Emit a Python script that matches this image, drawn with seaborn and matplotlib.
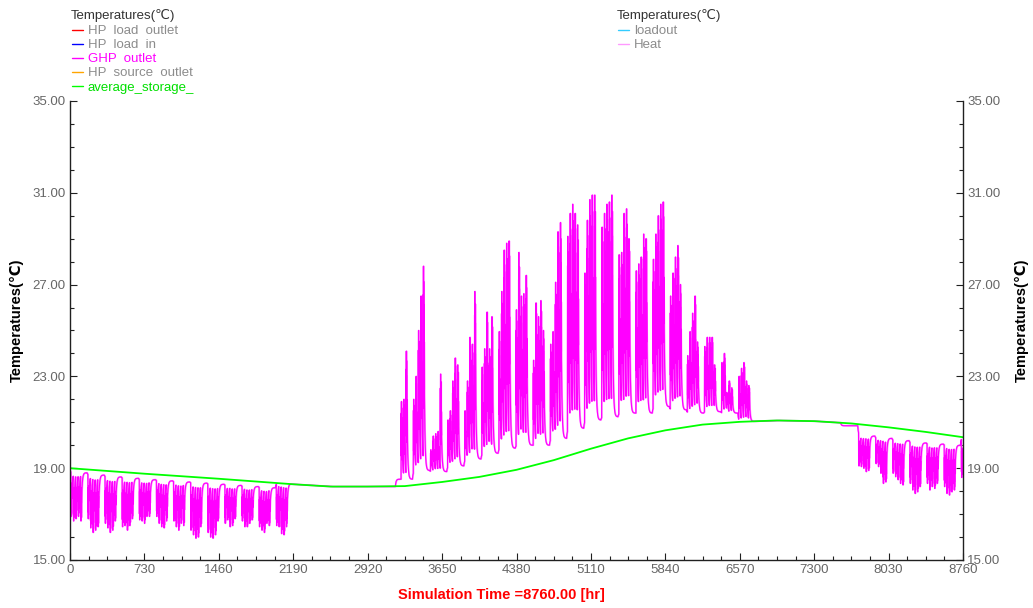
import numpy as np
import matplotlib
matplotlib.use("Agg")
import matplotlib.pyplot as plt
import seaborn as sns
from matplotlib.lines import Line2D
from matplotlib.ticker import MultipleLocator, FixedLocator

# ---------------- data ----------------
x_ticks = [0, 730, 1460, 2190, 2920, 3650, 4380, 5110, 5840, 6570, 7300, 8030, 8760]
y_ticks = [15, 19, 23, 27, 31, 35]

# average_storage_ (green)
storage_hours = [0, 365, 730, 1095, 1460, 1825, 2190, 2555, 2920, 3285, 3650, 4015,
                 4380, 4745, 5110, 5475, 5840, 6205, 6570, 6935, 7300, 7665, 8030, 8395, 8760]
storage_temp = [19.0, 18.88, 18.76, 18.65, 18.54, 18.42, 18.3, 18.2, 18.2, 18.22, 18.4, 18.62,
                18.93, 19.35, 19.85, 20.3, 20.65, 20.9, 21.02, 21.08, 21.05, 20.95, 20.78, 20.58, 20.35]

# GHP outlet - first heating season (weeks 0..12): recovery ceiling and daily minima
heat1_weeks = list(range(0, 13))
heat1_ceiling = [18.92, 18.8, 18.7, 18.62, 18.56, 18.5, 18.45, 18.4, 18.35, 18.3, 18.25, 18.2, 18.15]
heat1_min = [
    [16.9, 16.7, 16.8, 16.9, 16.7],
    [16.8, 16.4, 16.2, 16.3, 16.45],
    [16.6, 16.4, 16.2, 16.3, 16.7],
    [16.45, 16.5, 16.3, 16.5, 16.8],
    [16.75, 16.7, 16.6, 16.9, 16.9],
    [16.9, 16.6, 16.45, 16.4, 16.7],
    [16.7, 16.45, 16.3, 16.6, 16.5],
    [16.3, 16.1, 15.95, 16.0, 16.45],
    [16.2, 16.0, 15.95, 16.1, 16.7],
    [16.6, 16.75, 16.45, 16.5, 16.8],
    [16.7, 16.45, 16.45, 16.6, 16.75],
    [16.45, 16.3, 16.2, 16.6, 16.5],
    [16.5, 16.45, 16.15, 16.1, 16.45],
]

# GHP outlet - cooling season (weeks 19..39): weekend floor and daily peaks
cool_weeks = list(range(19, 40))
cool_floor = [18.2, 18.52, 18.9, 18.85, 19.1, 19.4, 19.65, 19.87, 20.0, 20.0, 20.3,
              20.74, 21.1, 21.24, 21.4, 21.4, 21.68, 21.54, 21.4, 21.46, 21.4]
cool_peak = [
    [np.nan, np.nan, 21.9, 22.0, 24.1],
    [22.0, 23.0, 25.0, 26.5, 27.8],
    [19.8, 20.4, 20.5, 20.6, 23.1],
    [21.1, 21.5, 22.8, 23.8, 23.5],
    [21.5, 22.8, 24.7, 24.4, 26.7],
    [23.4, 24.2, 25.8, 24.2, 25.6],
    [24.95, 26.7, 28.5, 28.8, 28.9],
    [25.9, 28.4, 26.5, 26.6, 27.4],
    [23.7, 26.2, 25.6, 26.3, 25.0],
    [24.4, 24.95, 27.1, 29.3, 29.7],
    [29.1, 30.1, 30.5, 30.1, 29.6],
    [27.5, 29.8, 30.7, 30.9, 30.9],
    [29.5, 30.1, 30.5, 30.6, 30.9],
    [28.3, 28.4, 30.1, 30.3, 29.0],
    [27.6, 27.9, 28.2, 29.2, 29.0],
    [28.1, 29.2, 30.0, 30.5, 30.6],
    [26.5, 27.5, 28.2, 28.7, 27.0],
    [23.9, 24.95, 25.75, 26.5, 24.5],
    [24.3, 24.7, 24.7, 24.7, 23.5],
    [23.6, 24.0, 22.3, 22.8, 22.5],
    [23.0, 23.35, 23.6, 22.8, 22.6],
]

# GHP outlet - second heating season (weeks 46..52)
heat2_weeks = list(range(46, 53))
heat2_ceiling = [20.85, 20.4, 20.3, 20.2, 20.1, 20.05, 20.0]
heat2_min = [
    [19.1, 19.07, 19.0, 18.85, 18.9],
    [19.2, 19.07, 18.78, 18.34, 18.4],
    [18.78, 18.63, 18.5, 18.34, 18.27],
    [18.34, 18.05, 17.9, 17.97, 18.2],
    [18.34, 18.05, 18.2, 18.12, 18.34],
    [18.2, 17.9, 17.83, 17.97, 18.05],
    [18.6, np.nan, np.nan, np.nan, np.nan],
]

# relative excursion of each operating hour (08-17 h) towards the day's extreme
op_frac = [0.45, 0.85, 0.3, 1.0, 0.4, 0.8, 0.25, 0.92, 0.35, 0.6]

legend_left = ["HP  load  outlet", "HP  load  in", "GHP  outlet", "HP  source  outlet", "average_storage_"]
legend_left_colors = ["#FF0000", "#0000FF", "#FF00FF", "#FFA500", "#00FF00"]
legend_left_text = ["#8C8C8C", "#8C8C8C", "#FF00FF", "#8C8C8C", "#00E000"]
legend_right = ["loadout", "Heat"]
legend_right_colors = ["#33CCFF", "#FF99FF"]

# ---------------- build hourly GHP outlet trace ----------------
n_hours = 8760
hours = np.arange(n_hours)
green_hourly = np.interp(hours, storage_hours, storage_temp)

week_level = {}
day_extreme = {}
for weeks, levels, extremes in [(heat1_weeks, heat1_ceiling, heat1_min),
                                (cool_weeks, cool_floor, cool_peak),
                                (heat2_weeks, heat2_ceiling, heat2_min)]:
    for w, lvl, ex in zip(weeks, levels, extremes):
        week_level[w] = lvl
        for dow, v in enumerate(ex):
            if not np.isnan(v):
                day_extreme[w * 7 + dow] = v

decay = np.exp(-1.0 / 7.0)
ghp = np.empty(n_hours)
cur = heat1_ceiling[0]
base = cur
for h in range(n_hours):
    d, hr = divmod(h, 24)
    w = d // 7
    if d in day_extreme and 8 <= hr < 18:
        if hr == 8:
            base = cur
        cur = base + op_frac[hr - 8] * (day_extreme[d] - base)
    else:
        tgt = week_level.get(w + 1, green_hourly[h])
        cur = tgt + (cur - tgt) * decay
    ghp[h] = cur
heat = np.concatenate([ghp[:2], ghp[:-2]])

# ---------------- plot ----------------
sns.set_theme(style="white")
font = ["Liberation Sans", "DejaVu Sans"]
plt.rcParams["font.family"] = font

W, H = 1033, 608
fig = plt.figure(figsize=(W / 100, H / 100), dpi=100)
ax = fig.add_axes([70 / W, 48 / H, 893 / W, 459 / H])

sns.lineplot(x=hours, y=heat, ax=ax, color="#FF88FF", lw=1.3, estimator=None, sort=False)
sns.lineplot(x=hours, y=ghp, ax=ax, color="#FF00FF", lw=0.8, estimator=None, sort=False)
sns.lineplot(x=storage_hours, y=storage_temp, ax=ax, color="#00FF00", lw=1.3, estimator=None, sort=False)

ax.set_xlim(0, 8760)
ax.set_ylim(15, 35)
ax.xaxis.set_major_locator(FixedLocator(x_ticks))
ax.xaxis.set_minor_locator(MultipleLocator(182.5))
ax.yaxis.set_major_locator(FixedLocator(y_ticks))
ax.yaxis.set_minor_locator(MultipleLocator(1))
ax.set_xticklabels([str(v) for v in x_ticks])
ax.set_yticklabels([f"{v:.2f}" for v in y_ticks])
ax.set_xlabel("")
ax.set_ylabel("")

for s in ["left", "right", "bottom"]:
    ax.spines[s].set_visible(True)
    ax.spines[s].set_color("#202020")
    ax.spines[s].set_linewidth(1.0)
ax.spines["top"].set_visible(False)

ax.tick_params(axis="both", which="both", direction="in", colors="#202020",
               labelcolor="#666666", labelsize=9.5, width=0.8)
ax.tick_params(axis="both", which="major", length=5)
ax.tick_params(axis="both", which="minor", length=3)
ax.tick_params(axis="y", which="both", left=True, right=True, labelleft=True, labelright=True, pad=3)
ax.tick_params(axis="x", which="both", bottom=True, top=False, pad=3)
for lab in ax.get_xticklabels() + ax.get_yticklabels():
    lab.set_family(font)

fig.text(17 / W, 1 - 320 / H, "Temperatures(℃)", rotation=90, ha="center", va="center",
         fontsize=10.5, fontweight="bold", color="black", family=font)
fig.text(1022 / W, 1 - 320 / H, "Temperatures(℃)", rotation=90, ha="center", va="center",
         fontsize=10.5, fontweight="bold", color="black", family=font)
fig.text(501 / W, 1 - 595 / H, "Simulation Time =8760.00 [hr]", ha="center", va="center",
         fontsize=10.5, fontweight="bold", color="#FF0000", family=font)

# legends
def draw_legend(x0, names, colors, tcolors):
    fig.text(x0 / W, 1 - 15 / H, "Temperatures(℃)", ha="left", va="center",
             fontsize=9.5, color="#333333", family=font)
    for i, (nm, c, tc) in enumerate(zip(names, colors, tcolors)):
        y = 1 - (31.5 + 14 * i) / H
        ly = y + 2.0 / H
        fig.add_artist(Line2D([(x0 + 1) / W, (x0 + 12) / W], [ly, ly], color=c, lw=1.0,
                              transform=fig.transFigure))
        fig.text((x0 + 17) / W, y, nm, ha="left", va="center", fontsize=9.5, color=tc, family=font)

draw_legend(71, legend_left, legend_left_colors, legend_left_text)
draw_legend(617, legend_right, legend_right_colors, ["#8C8C8C", "#8C8C8C"])

fig.savefig("out.png", dpi=100, facecolor="white")
